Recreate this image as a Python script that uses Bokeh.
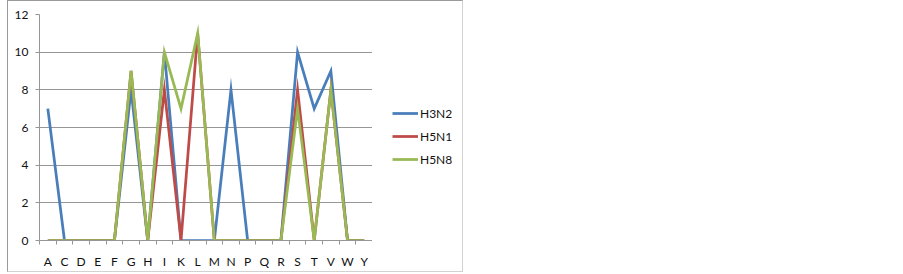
from bokeh.plotting import figure
from bokeh.models import (Range1d, FixedTicker, Legend, LegendItem)
from bokeh.layouts import row
from bokeh.embed import file_html
from bokeh.resources import INLINE

categories = ["A", "C", "D", "E", "F", "G", "H", "I", "K", "L",
              "M", "N", "P", "Q", "R", "S", "T", "V", "W", "Y"]
h3n2 = [7, 0, 0, 0, 0, 8, 0, 10, 0, 0, 0, 8, 0, 0, 0, 10, 7, 9, 0, 0]
h5n1 = [0, 0, 0, 0, 0, 9, 0, 8, 0, 11, 0, 0, 0, 0, 0, 8, 0, 8, 0, 0]
h5n8 = [0, 0, 0, 0, 0, 9, 0, 10, 7, 11, 0, 0, 0, 0, 0, 7, 0, 8, 0, 0]
series_names = ["H3N2", "H5N1", "H5N8"]
series_colors = ["#4A7EBB", "#BE4B48", "#98B954"]
y_ticks = [0, 2, 4, 6, 8, 10, 12]

n = len(categories)
xs = [i + 0.5 for i in range(n)]
series = [h3n2, h5n1, h5n8]

FONT = "Lato"
TXT = "#111111"

p = figure(width=364, height=270, output_backend="svg", toolbar_location=None,
           x_range=Range1d(0, n), y_range=Range1d(0, 12),
           min_border_left=31, min_border_right=0, min_border_top=13, min_border_bottom=30)
p.outline_line_color = None
p.xgrid.grid_line_color = None
p.ygrid.grid_line_color = "#969696"
p.ygrid.grid_line_width = 1
p.ygrid.ticker = FixedTicker(ticks=y_ticks)

for vals, col in zip(series, series_colors):
    p.line(xs, vals, line_color=col, line_width=2.75, line_join="miter")

# x axis
xa = p.xaxis[0]
xa.ticker = FixedTicker(ticks=xs, minor_ticks=[float(i) for i in range(n + 1)])
xa.major_label_overrides = {x: c for x, c in zip(xs, categories)}
xa.major_tick_out = 0
xa.major_tick_in = 0
xa.minor_tick_out = 4
xa.minor_tick_in = 0
xa.minor_tick_line_color = "#969696"
xa.axis_line_color = "#969696"
xa.major_label_standoff = 9
xa.major_label_text_font = FONT
xa.major_label_text_font_size = "12px"
xa.major_label_text_color = TXT

# y axis
ya = p.yaxis[0]
ya.ticker = FixedTicker(ticks=y_ticks)
ya.major_tick_out = 4
ya.major_tick_in = 0
ya.minor_tick_out = 0
ya.minor_tick_in = 0
ya.major_tick_line_color = "#969696"
ya.axis_line_color = "#969696"
ya.major_label_standoff = 7
ya.major_label_text_font = FONT
ya.major_label_text_font_size = "12px"
ya.major_label_text_color = TXT

# legend panel: a companion figure whose lines fall outside its view
leg = figure(width=90, height=270, output_backend="svg", toolbar_location=None,
             x_range=Range1d(-10, -9), y_range=Range1d(0, 12),
             x_axis_location=None, y_axis_location=None,
             min_border_left=0, min_border_right=0, min_border_top=0, min_border_bottom=0)
leg.outline_line_color = None
leg.grid.grid_line_color = None
leg_renderers = []
for vals, col in zip(series, series_colors):
    leg_renderers.append(leg.line(xs, vals, line_color=col, line_width=2.75))

legend = Legend(items=[LegendItem(label=nm, renderers=[r]) for nm, r in zip(series_names, leg_renderers)],
                location=(20, 71), orientation="vertical",
                glyph_width=26, glyph_height=20, label_height=20, label_standoff=2,
                spacing=3, padding=0, margin=0,
                border_line_color=None, background_fill_alpha=0,
                label_text_font=FONT, label_text_font_size="12px", label_text_color=TXT)
leg.add_layout(legend, "center")

layout = row(p, leg, spacing=0)
layout.margin = (0, 0, 0, 7)
layout.styles = {"box-sizing": "content-box",
                 "border-top": "1px solid #9A9A9A", "border-left": "1px solid #9A9A9A",
                 "border-right": "1px solid #D2D2D2", "border-bottom": "1px solid #D2D2D2"}

open("out.html", "w").write(file_html(layout, INLINE))
